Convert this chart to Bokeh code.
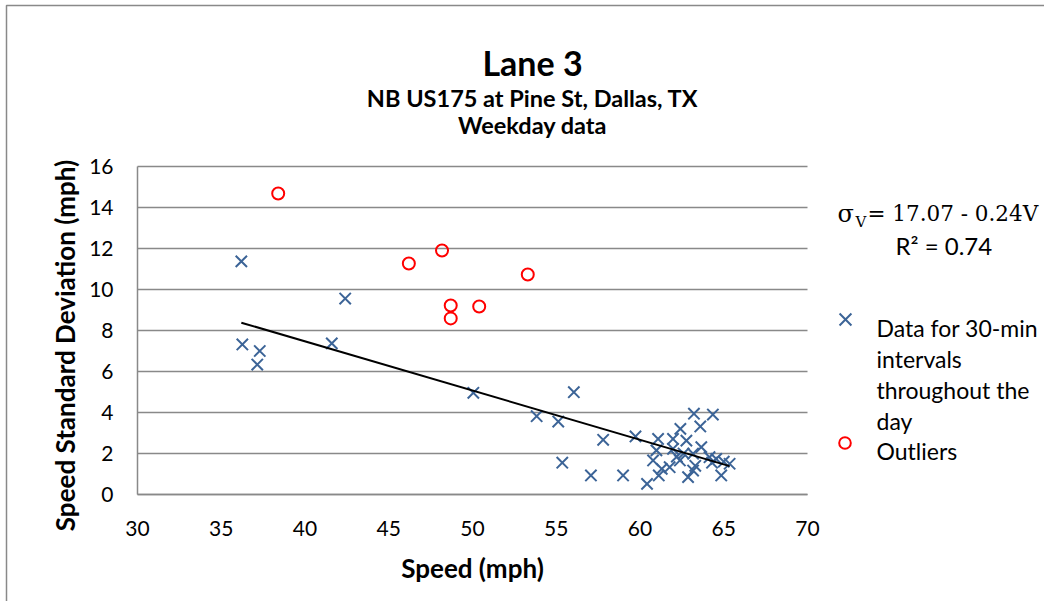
import math

from bokeh.plotting import figure
from bokeh.models import Label, Legend, LegendItem, Range1d
from bokeh.embed import file_html
from bokeh.resources import INLINE

# 30-minute interval observations: mean speed (mph) and speed standard deviation (mph)
speed_data = [36.2, 36.26, 37.3, 37.15, 41.6, 42.4, 50.05, 53.83, 55.12, 56.05,
              55.36, 57.07, 57.8, 58.99, 59.73, 60.42, 60.78, 60.98, 61.08, 61.12,
              61.3, 61.77, 61.97, 61.97, 62.2, 62.41, 62.38, 62.77, 62.6, 62.87,
              63.17, 63.3, 63.22, 63.6, 63.66, 63.17, 64.15, 64.35, 64.55, 64.85,
              65.35, 65.0, 64.3]
sd_data = [11.37, 7.32, 7.0, 6.34, 7.37, 9.56, 4.96, 3.82, 3.56, 4.99,
           1.55, 0.93, 2.67, 0.93, 2.83, 0.52, 1.66, 2.15, 2.71, 0.93,
           1.25, 1.33, 2.71, 2.23, 1.85, 3.2, 1.66, 2.63, 2.0, 0.85,
           1.17, 1.4, 3.94, 3.32, 2.31, 1.99, 1.82, 3.9, 1.74, 0.93,
           1.5, 1.6, 1.55]

# intervals flagged as outliers
speed_outliers = [38.4, 46.2, 48.18, 48.7, 48.7, 50.4, 53.3]
sd_outliers = [14.68, 11.27, 11.9, 9.22, 8.59, 9.17, 10.73]

# linear fit: sigma_V = intercept + slope * V
fit_intercept = 17.07
fit_slope = -0.24
r_squared = 0.74

x_ticks = [30, 35, 40, 45, 50, 55, 60, 65, 70]
y_ticks = [0, 2, 4, 6, 8, 10, 12, 14, 16]

W, H = 1044, 601
PL, PR, PT, PB = 137, 807, 166, 494   # plot-area edges in canvas pixels

SANS = "Lato"
SERIF = "DejaVu Serif"
GRID = "#898989"
BLUE = "#3C6497"

# The frame spans the whole canvas; the ranges are widened so that the
# plotting area [30, 70] x [0, 16] lands on PL..PR / PB..PT.
x0, x1 = x_ticks[0], x_ticks[-1]
y0, y1 = y_ticks[0], y_ticks[-1]
xs = (x1 - x0) / (PR - PL)
ys = (y1 - y0) / (PB - PT)
x_range = Range1d(x0 - PL * xs, x1 + (W - PR) * xs)
y_range = Range1d(y0 - (H - PB) * ys, y1 + PT * ys)

p = figure(width=W, height=H, output_backend="svg", toolbar_location=None,
           x_range=x_range, y_range=y_range,
           min_border=0, min_border_left=0, min_border_right=0,
           min_border_top=0, min_border_bottom=0)
p.outline_line_color = None
p.background_fill_color = "white"
p.border_fill_color = "white"
p.xgrid.visible = False
p.ygrid.visible = False

# axes pinned to the plotting area
p.xaxis.fixed_location = y0
p.yaxis.fixed_location = x0
p.xaxis.bounds = (x0, x1)
p.yaxis.bounds = (y0, y1)
p.xaxis.ticker = x_ticks
p.yaxis.ticker = y_ticks
for ax in (p.xaxis[0], p.yaxis[0]):
    ax.major_tick_out = 0
    ax.major_tick_in = 0
    ax.minor_tick_out = 0
    ax.minor_tick_in = 0
    ax.axis_line_color = GRID
    ax.axis_line_width = 1.5
    ax.major_label_text_font = SANS
    ax.major_label_text_font_size = "21px"
    ax.major_label_text_color = "black"
    ax.axis_label_text_font = SANS
    ax.axis_label_text_font_size = "26px"
    ax.axis_label_text_font_style = "bold"
    ax.axis_label_text_color = "black"

p.xaxis.axis_label = "Speed (mph)"
p.xaxis.major_label_standoff = 26
p.yaxis.major_label_standoff = 24
p.xaxis.axis_label_standoff = 13

# horizontal gridlines at the y ticks, across the plotting area
p.segment(x0=[x0] * len(y_ticks), x1=[x1] * len(y_ticks), y0=y_ticks, y1=y_ticks,
          line_color=GRID, line_width=1.5, level="underlay")

# observations
r_data = p.scatter(speed_data, sd_data, marker="x", size=16,
                   line_color=BLUE, line_width=2)
r_out = p.scatter(speed_outliers, sd_outliers, marker="circle", size=12,
                  line_color="red", fill_color=None, line_width=2)

# trend line across the observed speed range
x_lo, x_hi = min(speed_data), max(speed_data)
p.line([x_lo, x_hi],
       [fit_intercept + fit_slope * x_lo, fit_intercept + fit_slope * x_hi],
       line_color="black", line_width=2)


def text_at(x, y, text, size, bold=False, font=SANS, align="left", angle=0.0):
    """Place text with its baseline at canvas pixel (x, y)."""
    p.add_layout(Label(x=x, y=H - y, x_units="screen", y_units="screen",
                       text=text, text_font=font, text_font_size=size,
                       text_font_style="bold" if bold else "normal",
                       text_align=align, text_baseline="alphabetic",
                       angle=angle, text_color="black"))


# chart border (left and top edges fall inside the canvas)
p.line(x=[x_range.start + 6 * xs, x_range.start + 6 * xs, x_range.end + 10 * xs],
       y=[y_range.start - 10 * ys, y_range.end - 5 * ys, y_range.end - 5 * ys],
       line_color=GRID, line_width=1.5)

# titles
text_at(532, 62, "Lane 3", "34px", bold=True, align="center")
text_at(532, 97, "NB US175 at Pine St, Dallas, TX", "23.5px", bold=True, align="center")
text_at(532, 124, "Weekday data", "23.5px", bold=True, align="center")

# vertical axis title
text_at(64, 345, "Speed Standard Deviation (mph)", "26px", bold=True,
        align="center", angle=math.pi / 2)

# fitted equation
text_at(837, 213, "\u03c3", "24px", font=SERIF)
text_at(855, 221, "V", "15px", font=SERIF)
text_at(867, 213, f"= {fit_intercept:.2f} - {abs(fit_slope):.2f}V", "21.5px", font=SERIF)
text_at(895, 245, f"R\u00b2 = {r_squared:.2f}", "24px")

# legend markers
for item_r, cy, box in ((r_data, 319, 42), (r_out, 442.5, 29)):
    leg = Legend(items=[LegendItem(label=" ", renderers=[item_r])],
                 location=(844.5 - box / 2, H - (cy + box / 2)),
                 padding=0, margin=0, spacing=0,
                 glyph_width=box, glyph_height=box, label_height=20, label_width=1,
                 label_standoff=0, label_text_font_size="8px",
                 border_line_color=None, background_fill_alpha=0)
    p.add_layout(leg)

# legend text
for line_text, base in (("Data for 30-min", 327), ("intervals", 358),
                        ("throughout the", 389), ("day", 420), ("Outliers", 450)):
    text_at(876, base, line_text, "23px")

open("out.html", "w").write(file_html(p, INLINE))
